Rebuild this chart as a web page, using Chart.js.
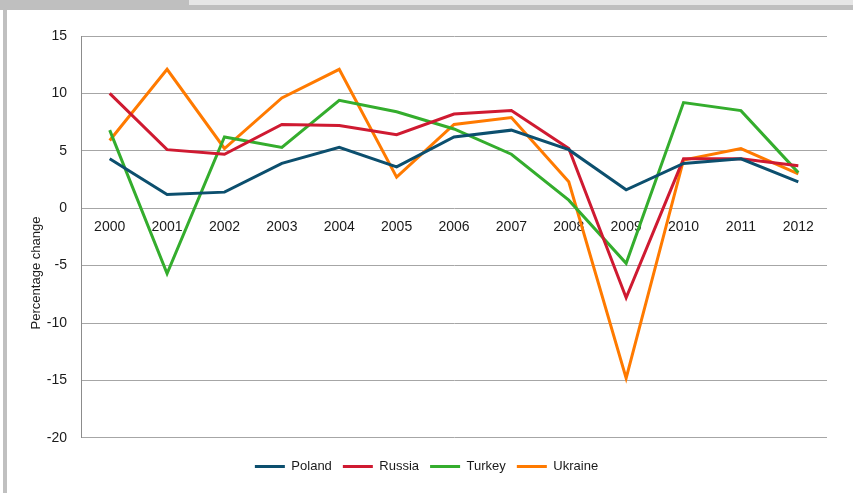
<!DOCTYPE html>
<html>
<head>
<meta charset="utf-8">
<script src="https://cdn.jsdelivr.net/npm/chart.js@4"></script>
<style>
  html, body { margin: 0; padding: 0; background: #fff; }
  #wrap { position: relative; width: 853px; height: 493px; overflow: hidden; }
  #chart { position: absolute; left: 0; top: 0; }
  .band-top { position: absolute; left: 0; top: 0; width: 853px; height: 5px; background: #e6e6e6; }
  .band-top-left { position: absolute; left: 0; top: 0; width: 189px; height: 5px; background: #bfbfbf; }
  .band-line { position: absolute; left: 0; top: 5px; width: 853px; height: 5px; background: #bfbfbf; }
  .border-left { position: absolute; left: 3px; top: 10px; width: 4px; height: 483px; background: #c0c0c0; }
</style>
</head>
<body>
<div id="wrap">
  <canvas id="chart" width="853" height="493"></canvas>
  <div class="band-top"></div>
  <div class="band-top-left"></div>
  <div class="band-line"></div>
  <div class="border-left"></div>
</div>
<script>
const years = ['2000', '2001', '2002', '2003', '2004', '2005', '2006', '2007', '2008', '2009', '2010', '2011', '2012'];
const poland  = [4.3, 1.2, 1.4, 3.9, 5.3, 3.6, 6.2, 6.8, 5.1, 1.6, 3.9, 4.3, 2.3];
const russia  = [10.0, 5.1, 4.7, 7.3, 7.2, 6.4, 8.2, 8.5, 5.2, -7.8, 4.3, 4.3, 3.7];
const turkey  = [6.8, -5.7, 6.2, 5.3, 9.4, 8.4, 6.9, 4.7, 0.7, -4.8, 9.2, 8.5, 3.1];
const ukraine = [5.9, 12.1, 5.2, 9.6, 12.1, 2.7, 7.3, 7.9, 2.3, -14.8, 4.2, 5.2, 3.0];
const yTicks = [15, 10, 5, 0, -5, -10, -15, -20];

const txt = '#1a1a1a';
const fontFam = '"Liberation Sans", Arial, sans-serif';

// y axis title sits lower than the middle of the plot in the original
const yTitle = {
  id: 'yTitle',
  afterDraw(chart) {
    const c = chart.ctx;
    c.save();
    c.translate(36, 273);
    c.rotate(-Math.PI / 2);
    c.fillStyle = txt;
    c.font = '13px ' + fontFam;
    c.textAlign = 'center';
    c.textBaseline = 'middle';
    c.fillText('Percentage change', 0, 0);
    c.restore();
  }
};

const mk = (label, data, color) => ({
  label: label,
  data: data,
  borderColor: color,
  backgroundColor: color,
  borderWidth: 3,
  pointRadius: 0,
  pointHoverRadius: 0,
  tension: 0,
  pointStyle: 'line'
});

new Chart(document.getElementById('chart'), {
  type: 'line',
  data: {
    labels: years,
    datasets: [
      mk('Poland', poland, '#0c4f6e'),
      mk('Russia', russia, '#cf1a31'),
      mk('Turkey', turkey, '#34ad2d'),
      mk('Ukraine', ukraine, '#ff7a00')
    ]
  },
  options: {
    responsive: false,
    animation: false,
    layout: { padding: { left: 0, right: 0, top: 36, bottom: 10 } },
    plugins: {
      tooltip: { enabled: false },
      legend: {
        position: 'bottom',
        title: { display: true, text: ' ', font: { size: 1 }, padding: { top: 6, bottom: 4 } },
        labels: {
          usePointStyle: true,
          pointStyleWidth: 30,
          boxHeight: 3,
          padding: 11,
          color: txt,
          font: { family: fontFam, size: 13 }
        }
      }
    },
    scales: {
      x: {
        position: { y: 0 },
        offset: true,
        grid: { display: false, drawTicks: false },
        border: { display: false },
        ticks: { color: txt, font: { family: fontFam, size: 14 }, padding: 11, maxRotation: 0 }
      },
      y: {
        min: -20,
        max: 15,
        afterFit(s) { s.width = 81; },
        afterBuildTicks(s) { s.ticks = yTicks.map(v => ({ value: v })); },
        grid: { color: '#a6a6a6', lineWidth: 1, drawTicks: false },
        border: { display: true, color: '#8c8c8c', width: 1 },
        ticks: { color: txt, font: { family: fontFam, size: 14 }, padding: 14 }
      },
      // empty right-hand strip so the legend centres on the whole page
      yRight: {
        position: 'right',
        min: -20,
        max: 15,
        afterFit(s) { s.width = 26; },
        grid: { display: false, drawOnChartArea: false, drawTicks: false },
        border: { display: false },
        ticks: { display: false }
      }
    }
  },
  plugins: [yTitle]
});
</script>
</body>
</html>
